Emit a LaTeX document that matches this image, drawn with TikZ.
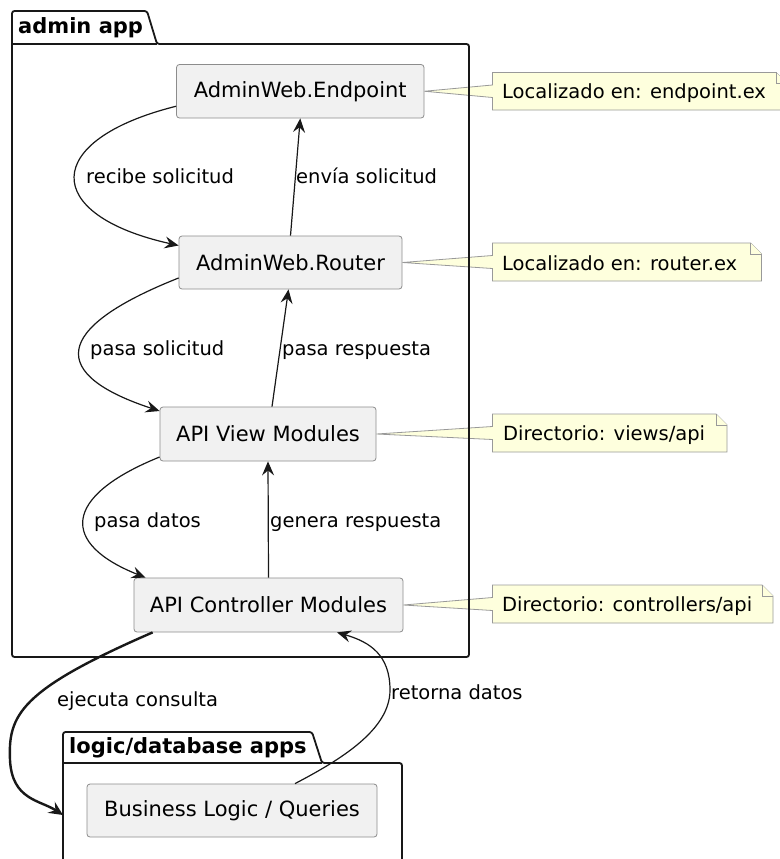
\documentclass[tikz,border=0pt]{standalone}
\usepackage{fontspec}
\setmainfont{DejaVu Sans}
\usetikzlibrary{arrows.meta,calc,backgrounds}
\definecolor{boxfill}{HTML}{F1F1F1}
\definecolor{boxline}{HTML}{8C8C8C}
\definecolor{notefill}{HTML}{FEFFDD}
\definecolor{noteline}{HTML}{999999}
\definecolor{ink}{HTML}{181818}
\begin{document}
\begin{tikzpicture}[x=1pt,y=-1pt,
  comp/.style={draw=boxline, fill=boxfill, rounded corners=3pt, line width=0.8pt, font=\fontsize{21}{25}\selectfont, inner sep=0pt},
  lbl/.style={font=\fontsize{19.5}{23}\selectfont, anchor=base west, inner sep=0pt},
  notetext/.style={font=\fontsize{19.5}{23}\selectfont, anchor=base west, inner sep=0pt},
  notebg/.style={draw=noteline, fill=notefill, line width=0.8pt, line join=miter},
  pkg/.style={draw=ink, line width=1.8pt, rounded corners=2.5pt},
  pkgtitle/.style={font=\bfseries\fontsize{21}{25}\selectfont, anchor=base west, inner sep=0pt},
  flow/.style={draw=ink, line width=1.2pt, -{Stealth[length=14pt,width=12pt,inset=5pt]}},
  bigflow/.style={draw=ink, line width=2.4pt, -{Stealth[length=14pt,width=13pt,inset=5pt]}},
]
\useasboundingbox (0,0) rectangle (779,859);
\clip (0,0) rectangle (779,859);
\begin{pgfonlayer}{background}
\fill[white] (0,0) rectangle (779,859);
\end{pgfonlayer}

% packages
\draw[pkg] (12,11) -- (147,11) -- (157,44) -- (469,44) -- (469,657) -- (12,657) -- cycle;
\draw[pkg, rounded corners=0pt] (12,44) -- (157,44);
\node[pkgtitle] (t1) at (18,33.5) {admin app};

\draw[pkg] (63,732) -- (312,732) -- (322,763) -- (402,763) -- (402,900) -- (63,900) -- cycle;
\draw[pkg, rounded corners=0pt] (63,763) -- (322,763);
\node[pkgtitle] (t2) at (69,753) {logic/database apps};

% components
\node[comp, minimum width=247.5pt, minimum height=53.5pt] (ep) at (300.25,91.25) {AdminWeb.Endpoint};
\node[comp, minimum width=223pt, minimum height=53pt] (rt) at (290.5,262.5) {AdminWeb.Router};
\node[comp, minimum width=216pt, minimum height=54pt] (vw) at (268,434) {API View Modules};
\node[comp, minimum width=269pt, minimum height=54pt] (ct) at (268.5,605) {API Controller Modules};
\node[comp, minimum width=290pt, minimum height=53pt] (bl) at (232,810.5) {Business Logic / Queries};

% notes (shapes on background)
\begin{pgfonlayer}{background}
\draw[notebg] (492.5,72.5) -- (776,72.5) -- (787,83.5) -- (787,110) -- (492.5,110) -- (492.5,97.5) -- (ep.east) -- (492.5,85) -- cycle;
\draw[notebg] (776,72.5) -- (776,83.5) -- (787,83.5);
\draw[notebg] (492.5,243) -- (750.5,243) -- (761.5,254) -- (761.5,281) -- (492.5,281) -- (492.5,268.5) -- (rt.east) -- (492.5,255.5) -- cycle;
\draw[notebg] (750.5,243) -- (750.5,254) -- (761.5,254);
\draw[notebg] (492.5,414) -- (716,414) -- (727,425) -- (727,452) -- (492.5,452) -- (492.5,439.5) -- (vw.east) -- (492.5,426.5) -- cycle;
\draw[notebg] (716,414) -- (716,425) -- (727,425);
\draw[notebg] (492.5,585) -- (762,585) -- (773,596) -- (773,623) -- (492.5,623) -- (492.5,610.5) -- (ct.east) -- (492.5,597.5) -- cycle;
\draw[notebg] (762,585) -- (762,596) -- (773,596);
\end{pgfonlayer}
\node[notetext] (n1) at (502,98.3) {Localizado en: endpoint.ex};
\node[notetext] (n2) at (502,270) {Localizado en: router.ex};
\node[notetext] (n3) at (503,440.7) {Directorio: views/api};
\node[notetext] (n4) at (502,611.7) {Directorio: controllers/api};

% connectors
\draw[flow] ($(ep.west)+(0,15)$) .. controls (41,140) and (41,215) .. ($(rt.west)+(0,-17)$);
\draw[flow] (rt.north) -- (ep.south);
\draw[flow] ($(rt.west)+(0,15.5)$) .. controls (50,329) and (50,375) .. ($(vw.west)+(0,-23)$);
\draw[flow] ($(vw.north)+(4,0)$) -- ($(rt.south)+(-2,0)$);
\draw[flow] ($(vw.west)+(0,23)$) .. controls (61,497) and (61,544) .. ($(ct.north west)+(12,0)$);
\draw[flow] (ct.north) -- (vw.south);
\coordinate (lgin) at (63,815);
\draw[bigflow] ($(ct.south west)+(19,0)$) .. controls (20,690) and (8,715) .. (10,760) .. controls (12,800) and (40,800) .. (lgin);
\draw[flow] ($(bl.north)+(63,0)$) .. controls (340,760) and (390,730) .. (390,690) .. controls (390,655) and (370,642) .. ($(ct.south)+(68.5,0)$);

% labels
\node[lbl] (l1) at (86,183) {recibe solicitud};
\node[lbl] (l2) at (296,183) {envía solicitud};
\node[lbl] (l3) at (90,355) {pasa solicitud};
\node[lbl] (l4) at (282,355) {pasa respuesta};
\node[lbl] (l5) at (94,527) {pasa datos};
\node[lbl] (l6) at (270,527) {genera respuesta};
\node[lbl] (l7) at (57,706.5) {ejecuta consulta};
\node[lbl] (l8) at (391,699.3) {retorna datos};
\end{tikzpicture}
\end{document}
